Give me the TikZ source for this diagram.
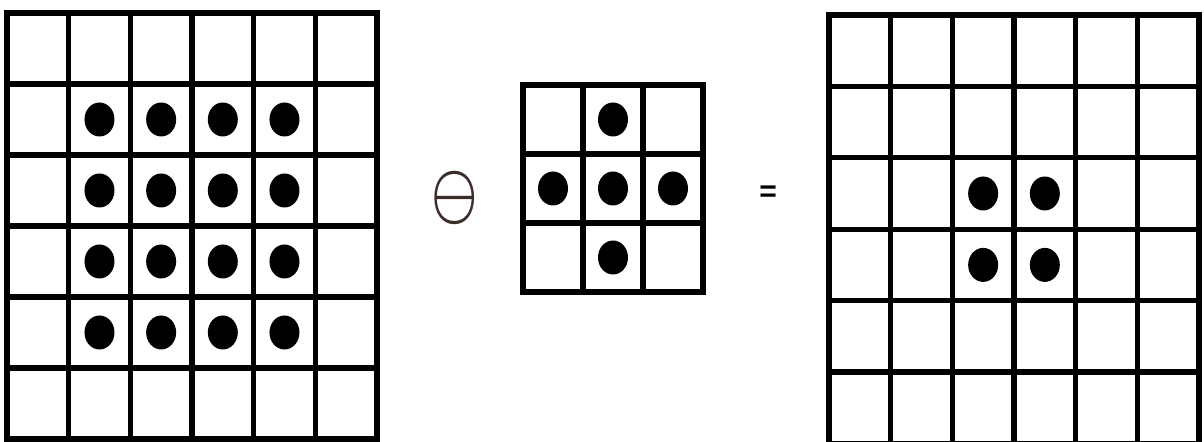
\documentclass[tikz,border=0pt]{standalone}
\usepackage{fontspec}
\setsansfont{Liberation Sans}
\usepackage{graphicx}
\usepackage{bm}
\definecolor{opBrown}{RGB}{60,45,40}

\begin{document}
\begin{tikzpicture}[x=0.5pt, y=0.5pt,
    every node/.append style={inner sep=0pt},
    gridline/.style={line width=2.6pt, step=1},
    blob/.style={x radius=7.5pt, y radius=8.5pt}
  ]
  \useasboundingbox (0,0) rectangle (1204,442);
  % Input image A (6x6)
  \begin{scope}[shift={(7,3)}, x=30.83pt, y=35.5pt]
    \draw[gridline] (0,0) grid (6,6);
    \draw[gridline] (0,0) rectangle (6,6);
    \fill (1.5,4.5) circle[blob] (2.5,4.5) circle[blob] (3.5,4.5) circle[blob] (4.5,4.5) circle[blob];
    \fill (1.5,3.5) circle[blob] (2.5,3.5) circle[blob] (3.5,3.5) circle[blob] (4.5,3.5) circle[blob];
    \fill (1.5,2.5) circle[blob] (2.5,2.5) circle[blob] (3.5,2.5) circle[blob] (4.5,2.5) circle[blob];
    \fill (1.5,1.5) circle[blob] (2.5,1.5) circle[blob] (3.5,1.5) circle[blob] (4.5,1.5) circle[blob];
  \end{scope}
  % Erosion operator
  \node[text=opBrown] (ominus) at (454.5,244) {\scalebox{2.6}[3.5]{$\bm{\ominus}$}};
  % Structuring element B (3x3 cross)
  \begin{scope}[shift={(523,150)}, x=30pt, y=34.5pt]
    \draw[gridline] (0,0) grid (3,3);
    \draw[gridline] (0,0) rectangle (3,3);
    \fill (1.5,2.5) circle[blob];
    \fill (0.5,1.5) circle[blob] (1.5,1.5) circle[blob] (2.5,1.5) circle[blob];
    \fill (1.5,0.5) circle[blob];
  \end{scope}
  % Equals sign
  \node[font=\sffamily\bfseries\fontsize{15}{15}\selectfont] (equals) at (768,248) {=};
  % Result (6x6)
  \begin{scope}[shift={(829,-1.4)}, x=30.83pt, y=35.7pt]
    \draw[gridline] (0,0) grid (6,6);
    \draw[gridline] (0,0) rectangle (6,6);
    \fill (2.5,3.5) circle[blob] (3.5,3.5) circle[blob];
    \fill (2.5,2.5) circle[blob] (3.5,2.5) circle[blob];
  \end{scope}
\end{tikzpicture}
\end{document}
